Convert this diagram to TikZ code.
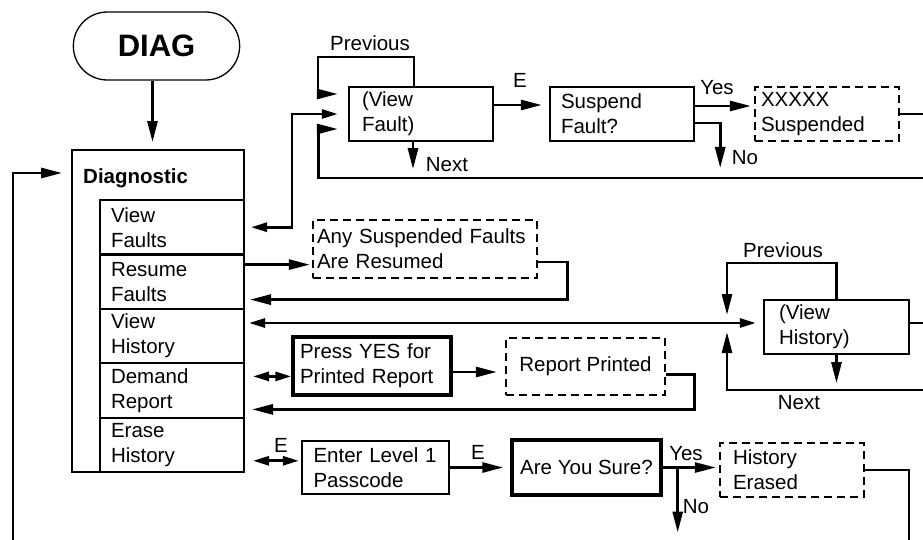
\documentclass[tikz,border=0pt]{standalone}
\usepackage{fontspec}
\setmainfont{Liberation Sans}
\usetikzlibrary{arrows.meta, positioning, calc, shapes.misc}
\definecolor{LineBlack}{HTML}{000000}
\tikzset{
  termbox/.style={draw=LineBlack, line width=1.3pt, rounded rectangle, minimum width=173pt, minimum height=68pt, font=\fontsize{31}{36}\selectfont\bfseries},
  menubox/.style={draw=LineBlack, line width=1.8pt, minimum width=172pt, minimum height=322pt, inner sep=0pt},
  itembox/.style={draw=LineBlack, line width=2.2pt, align=left, text width=122pt, inner xsep=11pt, inner ysep=2pt, minimum height=54.4pt, outer sep=0pt},
  box/.style={draw=LineBlack, line width=2.4pt, align=left, inner ysep=2pt, minimum height=54pt},
  dashbox/.style={box, dash pattern=on 8pt off 5pt},
  thickbox/.style={box, line width=3.4pt},
  arrow/.style={-{Triangle[length=21pt, width=10pt]}, line width=2.8pt, draw=LineBlack},
  dblarrow/.style={{Triangle[length=16pt, width=9pt]}-{Triangle[length=16pt, width=9pt]}, line width=2.8pt, draw=LineBlack},
  plainline/.style={line width=2.8pt, draw=LineBlack},
  lbl/.style={inner sep=0pt}
}

\begin{document}
\begin{tikzpicture}[x=1pt, y=-1pt, font=\fontsize{20.5}{25}\selectfont]
\useasboundingbox (0,0) rectangle (923,540);
% left column: entry and menu
\node[termbox] (diag) at (156.5,46) {DIAG};
\node[menubox] (menu) at (158,311) {};
\node[anchor=west, inner sep=0pt, font=\fontsize{20.5}{25}\selectfont\bfseries] (menutitle) at (83,178) {Diagnostic};
\node[itembox] (vfaults) at (172,227.2) {View\\Faults};
\node[itembox, below=0pt of vfaults] (rfaults) {Resume\\Faults};
\node[itembox, below=0pt of rfaults] (vhist) {View\\History};
\node[itembox, below=0pt of vhist] (demand) {Demand\\Report};
\node[itembox, below=0pt of demand] (erase) {Erase\\History};

% fault branch
\node[box, text width=118pt, inner xsep=13pt] (vfault) at (421,114) {(View\\Fault)};
\node[box, text width=122pt, inner xsep=11pt] (susp) at (622,114) {Suspend\\Fault?};
\node[dashbox, text width=132pt, inner xsep=6pt] (susp2) at (827,114) {XXXXX\\Suspended};
\node[dashbox, text width=216pt, inner xsep=4pt, minimum height=58pt] (anyres) at (425,249) {Any Suspended Faults\\Are Resumed};

% history branch
\node[box, text width=115pt, inner xsep=15pt] (vhist2) at (836.5,327) {(View\\History)};
\node[thickbox, text width=144pt, inner xsep=7pt, minimum height=58pt] (press) at (372,366) {Press YES for\\Printed Report};
\node[dashbox, align=center, minimum width=159pt, minimum height=57pt] (rprint) at (585.5,366.5) {Report Printed};
\node[box, text width=124pt, inner xsep=11.5pt, minimum height=53pt] (passcode) at (375.5,467.5) {Enter Level 1\\Passcode};
\node[thickbox, align=center, minimum width=149pt, minimum height=55pt] (sure) at (586.5,467.5) {Are You Sure?};
\node[dashbox, text width=118pt, inner xsep=13pt] (herased) at (792,470) {History\\Erased};

% labels
\node[lbl] (prevf) at (370,43) {Previous};
\node[lbl] (nextf) at (447,165) {Next};
\node[lbl] (ef) at (520,80) {E};
\node[lbl] (yesf) at (717,88) {Yes};
\node[lbl] (nof) at (745,158) {No};
\node[lbl] (prevh) at (783,250) {Previous};
\node[lbl] (nexth) at (799,403) {Next};
\node[lbl] (ee1) at (281,445) {E};
\node[lbl] (ee2) at (478,452) {E};
\node[lbl] (yese) at (686,454) {Yes};
\node[lbl] (noe) at (696,507) {No};

% free ends
\coordinate (lin) at (13,540);
\coordinate (fprev) at (318,57);
\coordinate (fret) at (923,178);
\coordinate (hprev) at (727,263);
\coordinate (hret) at (923,390);
\coordinate (eout) at (909,540);

% connectors
\draw[arrow, shorten >=7pt] ([xshift=-4pt]diag.south) -- ([xshift=-4pt]diag.south |- menu.north);
\draw[arrow, shorten >=9pt] (lin) |- ([yshift=5pt]menu.west |- menutitle.west);
\draw[dblarrow, shorten <=7pt, shorten >=10pt] (vfaults.east) -- ++(48,0) |- (vfault.west);
\draw[arrow, shorten >=10pt] ([xshift=-7pt]vfault.north) |- (fprev) |- ([yshift=20pt]vfault.west);
\draw[arrow, shorten >=10pt] (fret) -| ([xshift=-29pt, yshift=-15pt]vfault.west) -- ([yshift=-15pt]vfault.west);
\draw[arrow] ([xshift=-8pt]vfault.south) -- ++(0,27);
\draw[arrow, shorten >=7pt] ([yshift=9pt]vfault.east) -- ([yshift=9pt]vfault.east -| susp.west);
\draw[arrow, shorten >=3pt] ([yshift=8pt]susp.east) -- ([yshift=8pt]susp.east -| susp2.west);
\draw[arrow] ([yshift=-9pt]susp.east) -| ++(25,45);
\draw[plainline] (susp2.east) -- (susp2.east -| fret);

\draw[arrow, shorten >=2pt] ([yshift=17pt]rfaults.east) -- ([yshift=17pt]rfaults.east -| anyres.west);
\draw[arrow, shorten >=6pt] ([yshift=-13pt]anyres.east) -- ++(29,0) |- ([yshift=-18pt]rfaults.east);

\draw[dblarrow, shorten <=5pt, shorten >=7pt] ([yshift=13pt]vhist.east) -- ([yshift=13pt]vhist.east -| vhist2.west);
\draw[arrow] (vhist2.north) |- (hprev) -- ++(0,52);
\draw[arrow] (hret) -| ++(-196,-58);
\draw[arrow] (vhist2.south) -- ++(0,28);
\draw[plainline] ([yshift=4pt]vhist2.east) -- ([yshift=4pt]vhist2.east -| hret);

\draw[dblarrow, shorten <=9pt] ([yshift=14pt]demand.east) -- ([yshift=14pt]demand.east -| press.west);
\draw[arrow, shorten >=8pt] ([yshift=-6pt]press.east) -- ([yshift=-6pt]press.east -| rprint.west);
\draw[arrow, shorten >=8pt] ([yshift=-8pt]rprint.east) -- ++(28,0) |- ([yshift=-19pt]demand.east);

\draw[dblarrow, shorten <=9pt, shorten >=2pt] ([yshift=-16pt]erase.east) -- ([yshift=-16pt]erase.east -| passcode.west);
\draw[arrow, shorten >=7pt] (passcode.east) -- (sure.west);
\draw[arrow, shorten >=3pt] (sure.east) -- (sure.east -| herased.west);
\draw[arrow] ([xshift=15pt]sure.east) -- ++(0,65);
\draw[plainline] (herased.east) -| (eout);
\end{tikzpicture}
\end{document}
